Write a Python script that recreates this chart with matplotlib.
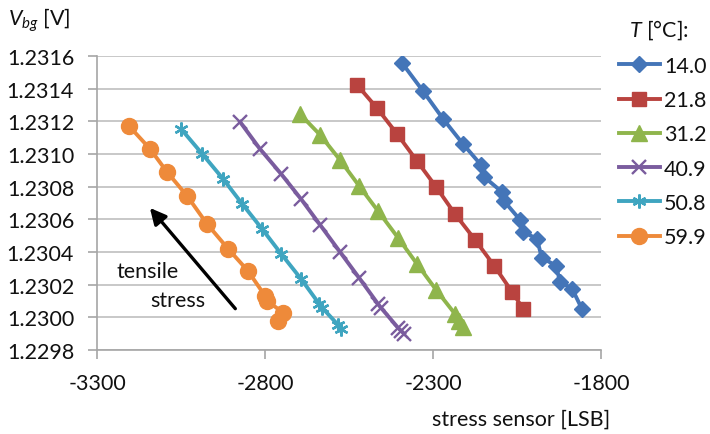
import numpy as np
import matplotlib
matplotlib.use("Agg")
import matplotlib.pyplot as plt

plt.rcParams['font.family'] = ['Lato', 'DejaVu Sans']
plt.rcParams['mathtext.fontset'] = 'custom'
plt.rcParams['mathtext.rm'] = 'Lato'
plt.rcParams['mathtext.it'] = 'Lato:italic'

# ---- data ----
temps = ["14.0", "21.8", "31.2", "40.9", "50.8", "59.9"]

x_14_0 = [-2392, -2330, -2270, -2211, -2157, -2148, -2095, -2089, -2041, -2032,
          -1991, -1976, -1934, -1922, -1886, -1857]
y_14_0 = [1.231557, 1.231386, 1.231215, 1.231062, 1.230933, 1.230860, 1.230768,
          1.230713, 1.230597, 1.230524, 1.230481, 1.230365, 1.230316, 1.230218,
          1.230175, 1.230053]

x_21_8 = [-2526, -2467, -2407, -2348, -2291, -2235, -2175, -2118, -2065, -2032]
y_21_8 = [1.231423, 1.231282, 1.231123, 1.230958, 1.230799, 1.230634, 1.230475,
          1.230316, 1.230157, 1.230053]

x_31_2 = [-2696, -2636, -2577, -2520, -2464, -2404, -2348, -2291, -2235, -2223, -2211]
y_31_2 = [1.231245, 1.231117, 1.230964, 1.230805, 1.230652, 1.230487, 1.230328,
          1.230169, 1.230022, 1.229979, 1.229943]

x_40_9 = [-2874, -2815, -2752, -2693, -2636, -2577, -2520, -2464, -2455, -2404,
          -2395, -2386]
y_40_9 = [1.231196, 1.231031, 1.230878, 1.230725, 1.230566, 1.230401, 1.230242,
          1.230083, 1.230059, 1.229936, 1.229918, 1.229900]

x_50_8 = [-3050, -2987, -2925, -2868, -2809, -2752, -2693, -2639, -2630, -2583, -2574]
y_50_8 = [1.231154, 1.231001, 1.230848, 1.230695, 1.230542, 1.230389, 1.230236,
          1.230083, 1.230059, 1.229955, 1.229930]

x_59_9 = [-3205, -3142, -3092, -3032, -2973, -2910, -2851, -2800, -2794, -2746, -2761]
y_59_9 = [1.231172, 1.231031, 1.230891, 1.230744, 1.230573, 1.230420, 1.230285,
          1.230132, 1.230102, 1.230028, 1.229979]

xticks = [-3300, -2800, -2300, -1800]
yticks = [1.2298, 1.2300, 1.2302, 1.2304, 1.2306, 1.2308, 1.2310, 1.2312, 1.2314, 1.2316]

# ---- style ----
colors = ['#4475B8', '#B9433F', '#8FB54C', '#7A5C9E', '#3FA5C0', '#EE8A3A']
markers = ['D', 's', '^', 'x', (6, 2, 0), 'o']
msizes = [8, 10.5, 11, 10, 10, 11.5]
xs = [x_14_0, x_21_8, x_31_2, x_40_9, x_50_8, x_59_9]
ys = [y_14_0, y_21_8, y_31_2, y_40_9, y_50_8, y_59_9]
txtc = '#111111'

fig = plt.figure(figsize=(7.1, 4.35), dpi=100)
ax = fig.add_axes([97/710, 1-351/435, (601-97)/710, (351-57)/435])

for x, y, c, m, ms, lab in zip(xs, ys, colors, markers, msizes, temps):
    kw = dict(color=c, lw=2.8, marker=m, markersize=ms, label=lab,
              markerfacecolor=c, markeredgecolor=c)
    if m == 'x' or isinstance(m, tuple):
        kw['markeredgewidth'] = 1.7
    ax.plot(x, y, **kw)

ax.set_xlim(-3300, -1800)
ax.set_ylim(1.2298, 1.2316)
ax.set_xticks(xticks)
ax.set_xticklabels([f"{v}" for v in xticks])
ax.set_yticks(yticks)
ax.set_yticklabels([f"{v:.4f}" for v in yticks])
ax.yaxis.grid(True, color='#BFBFBF', lw=1.2)
ax.set_axisbelow(True)
for s in ['top', 'right']:
    ax.spines[s].set_visible(False)
for s in ['left', 'bottom']:
    ax.spines[s].set_color('#A6A6A6')
    ax.spines[s].set_linewidth(1.2)
ax.tick_params(axis='both', direction='out', length=6.5, width=1.2, color='#A6A6A6',
               pad=10, labelsize=15.5, labelcolor=txtc)

# arrow and annotation
ax.annotate('', xy=(-3148, 1.230683), xytext=(-2883, 1.230040),
            arrowprops=dict(arrowstyle='-|>', color='black', lw=2.4, mutation_scale=24))
ax.text(-3148, 1.230285, 'tensile', fontsize=15.5, ha='center', va='center', color=txtc)
ax.text(-3059, 1.230108, 'stress', fontsize=15.5, ha='center', va='center', color=txtc)

fig.text(8/710, 1-20/435, r'$V_{bg}$ [V]', fontsize=15.5, ha='left', va='center', color=txtc)
fig.text(521/710, 1-420/435, 'stress sensor [LSB]', fontsize=15.5, ha='center', va='center',
         color=txtc)
fig.text(659/710, 1-30/435, r'$T$ [°C]:', fontsize=15.5, ha='center', va='center', color=txtc)

leg = ax.legend(loc='upper left', bbox_to_anchor=(619/710, 1-57/435),
                bbox_transform=fig.transFigure, frameon=False, fontsize=15.5,
                handlelength=1.9, handletextpad=0.2, labelspacing=0.66,
                borderaxespad=0, borderpad=0)
for t in leg.get_texts():
    t.set_color(txtc)

fig.savefig('out.png', dpi=100)
